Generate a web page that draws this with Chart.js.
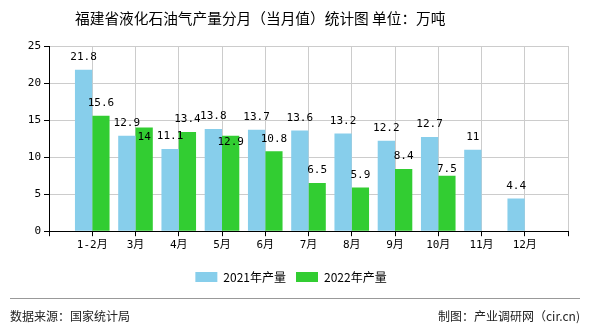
<!doctype html>
<html>
<head>
    <meta charset="utf-8" />
    <title>福建省液化石油气产量分月统计图</title>
    <script src="https://cdn.jsdelivr.net/npm/chart.js@4/dist/chart.umd.min.js"></script>
    <style>
        html, body { margin: 0; padding: 0; background: #fff; }
        #wrap { width: 590px; height: 330px; position: relative; }
    </style>
</head>
<body>
    <div id="wrap"><canvas id="prodChart"></canvas></div>

<script>
    // data (万吨)
    var months = ['1-2月', '3月', '4月', '5月', '6月', '7月', '8月', '9月', '10月', '11月', '12月'];
    var output2021 = [21.8, 12.9, 11.1, 13.8, 13.7, 13.6, 13.2, 12.2, 12.7, 11, 4.4];
    var output2022 = [15.6, 14, 13.4, 12.9, 10.8, 6.5, 5.9, 8.4, 7.5, null, null];
    var yTicks = [0, 5, 10, 15, 20, 25];

    var monoFont = '"DejaVu Sans Mono", "Noto Sans CJK SC", monospace';
    var cjkFont = '"Noto Sans CJK SC", sans-serif';

    // blank slot at each end, so the months sit on grid lines like the original
    var labels = [''].concat(months, ['']);
    function pad(arr) { return [null].concat(arr, [null]); }

    // a few labels in the original were pushed down to dodge their neighbour
    var labelNudge = { '1:1': 22, '1:3': 19, '1:8': 6 };

    var extras = {
        id: 'extras',
        afterDatasetsDraw: function (chart) {
            var ctx = chart.ctx;
            ctx.save();
            ctx.font = '11px ' + monoFont;
            ctx.fillStyle = '#000';
            ctx.textAlign = 'center';
            ctx.textBaseline = 'middle';
            chart.data.datasets.forEach(function (ds, di) {
                chart.getDatasetMeta(di).data.forEach(function (bar, i) {
                    var v = ds.data[i];
                    if (v === null || v === undefined) return;
                    var y = bar.y - 12.5 + (labelNudge[di + ':' + (i - 1)] || 0);
                    ctx.fillText(String(v), bar.x, y);
                });
            });
            ctx.restore();
        },
        afterDraw: function (chart) {
            var ctx = chart.ctx;
            ctx.save();
            // title
            ctx.fillStyle = '#000';
            ctx.font = '14.7px ' + cjkFont;
            ctx.textAlign = 'left';
            ctx.textBaseline = 'middle';
            ctx.fillText('福建省液化石油气产量分月（当月值）统计图 单位：万吨', 75, 18);
            // footer
            ctx.strokeStyle = '#999';
            ctx.lineWidth = 1;
            ctx.beginPath();
            ctx.moveTo(10, 298.5);
            ctx.lineTo(580, 298.5);
            ctx.stroke();
            ctx.font = '12px ' + cjkFont;
            ctx.fillStyle = '#222';
            ctx.fillText('数据来源：国家统计局', 10, 316);
            ctx.textAlign = 'right';
            ctx.fillText('制图：产业调研网（cir.cn)', 580, 316);
            ctx.restore();
        }
    };

    var ctx = document.getElementById('prodChart').getContext('2d');
    var myChart = new Chart(ctx, {
        type: 'bar',
        data: {
            labels: labels,
            datasets: [{
                label: '2021年产量',
                data: pad(output2021),
                backgroundColor: '#87CEEB',
                categoryPercentage: 0.8,
                barPercentage: 1
            }, {
                label: '2022年产量',
                data: pad(output2022),
                backgroundColor: '#32CD32',
                categoryPercentage: 0.8,
                barPercentage: 1
            }]
        },
        options: {
            responsive: true,
            maintainAspectRatio: false,
            animation: false,
            layout: { padding: { left: 7, right: 15, top: 46, bottom: 37 } },
            scales: {
                x: {
                    offset: false,
                    grid: { offset: false, color: '#cccccc', tickColor: '#000', tickLength: 5 },
                    border: { color: '#000' },
                    ticks: { color: '#000', font: { family: monoFont, size: 11 }, autoSkip: false, maxRotation: 0, padding: 2 },
                    afterFit: function (s) { s.height = 29.8; }
                },
                y: {
                    min: 0,
                    max: 25,
                    afterBuildTicks: function (s) { s.ticks = yTicks.map(function (v) { return { value: v }; }); },
                    grid: { color: '#cccccc', tickColor: '#000', tickLength: 5 },
                    border: { color: '#000' },
                    ticks: { color: '#000', font: { family: monoFont, size: 11 }, padding: 3 },
                    afterFit: function (s) { s.width = 42; }
                },
                // empty spacer on the right, keeps the legend centred where the original has it
                yRight: {
                    position: 'right',
                    min: 0,
                    max: 25,
                    grid: { display: false },
                    border: { display: false },
                    ticks: { display: false },
                    afterFit: function (s) { s.width = 7; }
                }
            },
            plugins: {
                legend: {
                    position: 'bottom',
                    labels: {
                        boxWidth: 22,
                        boxHeight: 10,
                        padding: 10,
                        color: '#000',
                        font: { family: cjkFont, size: 12 }
                    }
                },
                tooltip: { enabled: false }
            }
        },
        plugins: [extras]
    });
</script>
</body>
</html>
